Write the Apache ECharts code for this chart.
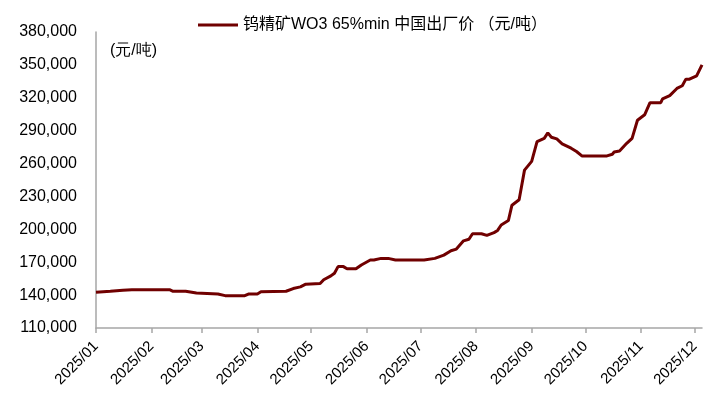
<!DOCTYPE html>
<html>
<head>
<meta charset="utf-8">
<script src="https://cdn.jsdelivr.net/npm/echarts@6/dist/echarts.min.js"></script>
<style>
html,body{margin:0;padding:0;background:#fff;}
#c{width:724px;height:405px;}
</style>
</head>
<body>
<div id="c"></div>
<script>
const seriesName = '钨精矿WO3 65%min 中国出厂价 （元/吨）';
const unitLabel = '(元/吨)';
const dates = [
 '2025-01-01','2025-01-09','2025-01-16','2025-01-21','2025-02-11','2025-02-13','2025-02-20','2025-02-26',
 '2025-03-10','2025-03-14','2025-03-25','2025-03-27','2025-04-01','2025-04-03','2025-04-17','2025-04-21',
 '2025-04-25','2025-04-28','2025-05-06','2025-05-08','2025-05-12','2025-05-14','2025-05-16','2025-05-19',
 '2025-05-21','2025-05-26','2025-05-29','2025-06-03','2025-06-05','2025-06-09','2025-06-13','2025-06-17',
 '2025-07-03','2025-07-04','2025-07-09','2025-07-14','2025-07-18','2025-07-21','2025-07-25','2025-07-28',
 '2025-07-30','2025-08-04','2025-08-07','2025-08-11','2025-08-13','2025-08-15','2025-08-19','2025-08-21',
 '2025-08-25','2025-08-28','2025-09-01','2025-09-04','2025-09-08','2025-09-10','2025-09-12','2025-09-15',
 '2025-09-18','2025-09-23','2025-09-26','2025-09-29','2025-10-13','2025-10-16','2025-10-17','2025-10-20',
 '2025-10-24','2025-10-27','2025-10-30','2025-11-03','2025-11-06','2025-11-12','2025-11-13','2025-11-17',
 '2025-11-21','2025-11-24','2025-11-26','2025-11-28','2025-12-02','2025-12-05'
];
const prices = [
 142500,143500,144500,145000,145000,143500,143500,142000,
 141000,139500,139500,141000,141000,143000,143500,146000,
 147500,150000,150500,154000,157500,160000,166000,166000,
 164000,164000,167500,172000,172000,173500,173500,172000,
 172000,173500,173500,176500,180500,182000,189500,191000,
 196000,196000,194500,197000,199000,204000,208000,222000,
 227000,254000,262000,280000,283000,288000,284000,282500,
 278000,274000,271000,267000,267000,268500,270500,271500,
 278500,283000,299500,304500,315500,315500,319000,322000,
 328500,331000,337000,337000,340000,350000
];
const yMin = 110000, yMax = 380000, yStep = 30000;
const xMin = '2025-01-01', xMax = '2025-12-05';

const chart = echarts.init(document.getElementById('c'));
const font = 'Liberation Sans, Arial, Noto Sans CJK SC, sans-serif';
const pad = n => (n < 10 ? '0' : '') + n;
chart.setOption({
  animation: false,
  backgroundColor: '#fff',
  textStyle: {fontFamily: font},
  grid: {left: 96, right: 22, top: 32, bottom: 77, containLabel: false},
  legend: {
    left: 193, top: 12,
    icon: 'rect', itemWidth: 40, itemHeight: 3, itemGap: 10,
    textStyle: {fontSize: 16, color: '#000', fontFamily: font},
    data: [seriesName]
  },
  graphic: [{
    type: 'text', left: 110, top: 43,
    style: {text: unitLabel, fontSize: 16, fill: '#000', font: '16px ' + font}
  }],
  xAxis: {
    type: 'time',
    min: xMin, max: xMax,
    minInterval: 28 * 86400000, maxInterval: 31 * 86400000,
    axisLine: {lineStyle: {color: '#a6a6a6', width: 1.5}},
    axisTick: {show: true, length: 5, lineStyle: {color: '#a6a6a6', width: 1.5}},
    splitLine: {show: false},
    axisLabel: {
      rotate: 45, fontSize: 15, color: '#000', margin: 16, fontFamily: font,
      formatter: v => { const d = new Date(v); return d.getFullYear() + '/' + pad(d.getMonth() + 1); }
    }
  },
  yAxis: {
    type: 'value', min: yMin, max: yMax, interval: yStep,
    axisLine: {show: true, lineStyle: {color: '#a6a6a6', width: 1.5}},
    axisTick: {show: false},
    splitLine: {show: false},
    axisLabel: {
      fontSize: 16, color: '#000', margin: 19, fontFamily: font,
      formatter: v => v.toLocaleString('en-US')
    }
  },
  series: [{
    name: seriesName, type: 'line', showSymbol: false, symbol: 'none',
    data: dates.map((d, i) => [d, prices[i]]),
    lineStyle: {color: '#700000', width: 3},
    itemStyle: {color: '#700000'}
  }]
});
</script>
</body>
</html>
